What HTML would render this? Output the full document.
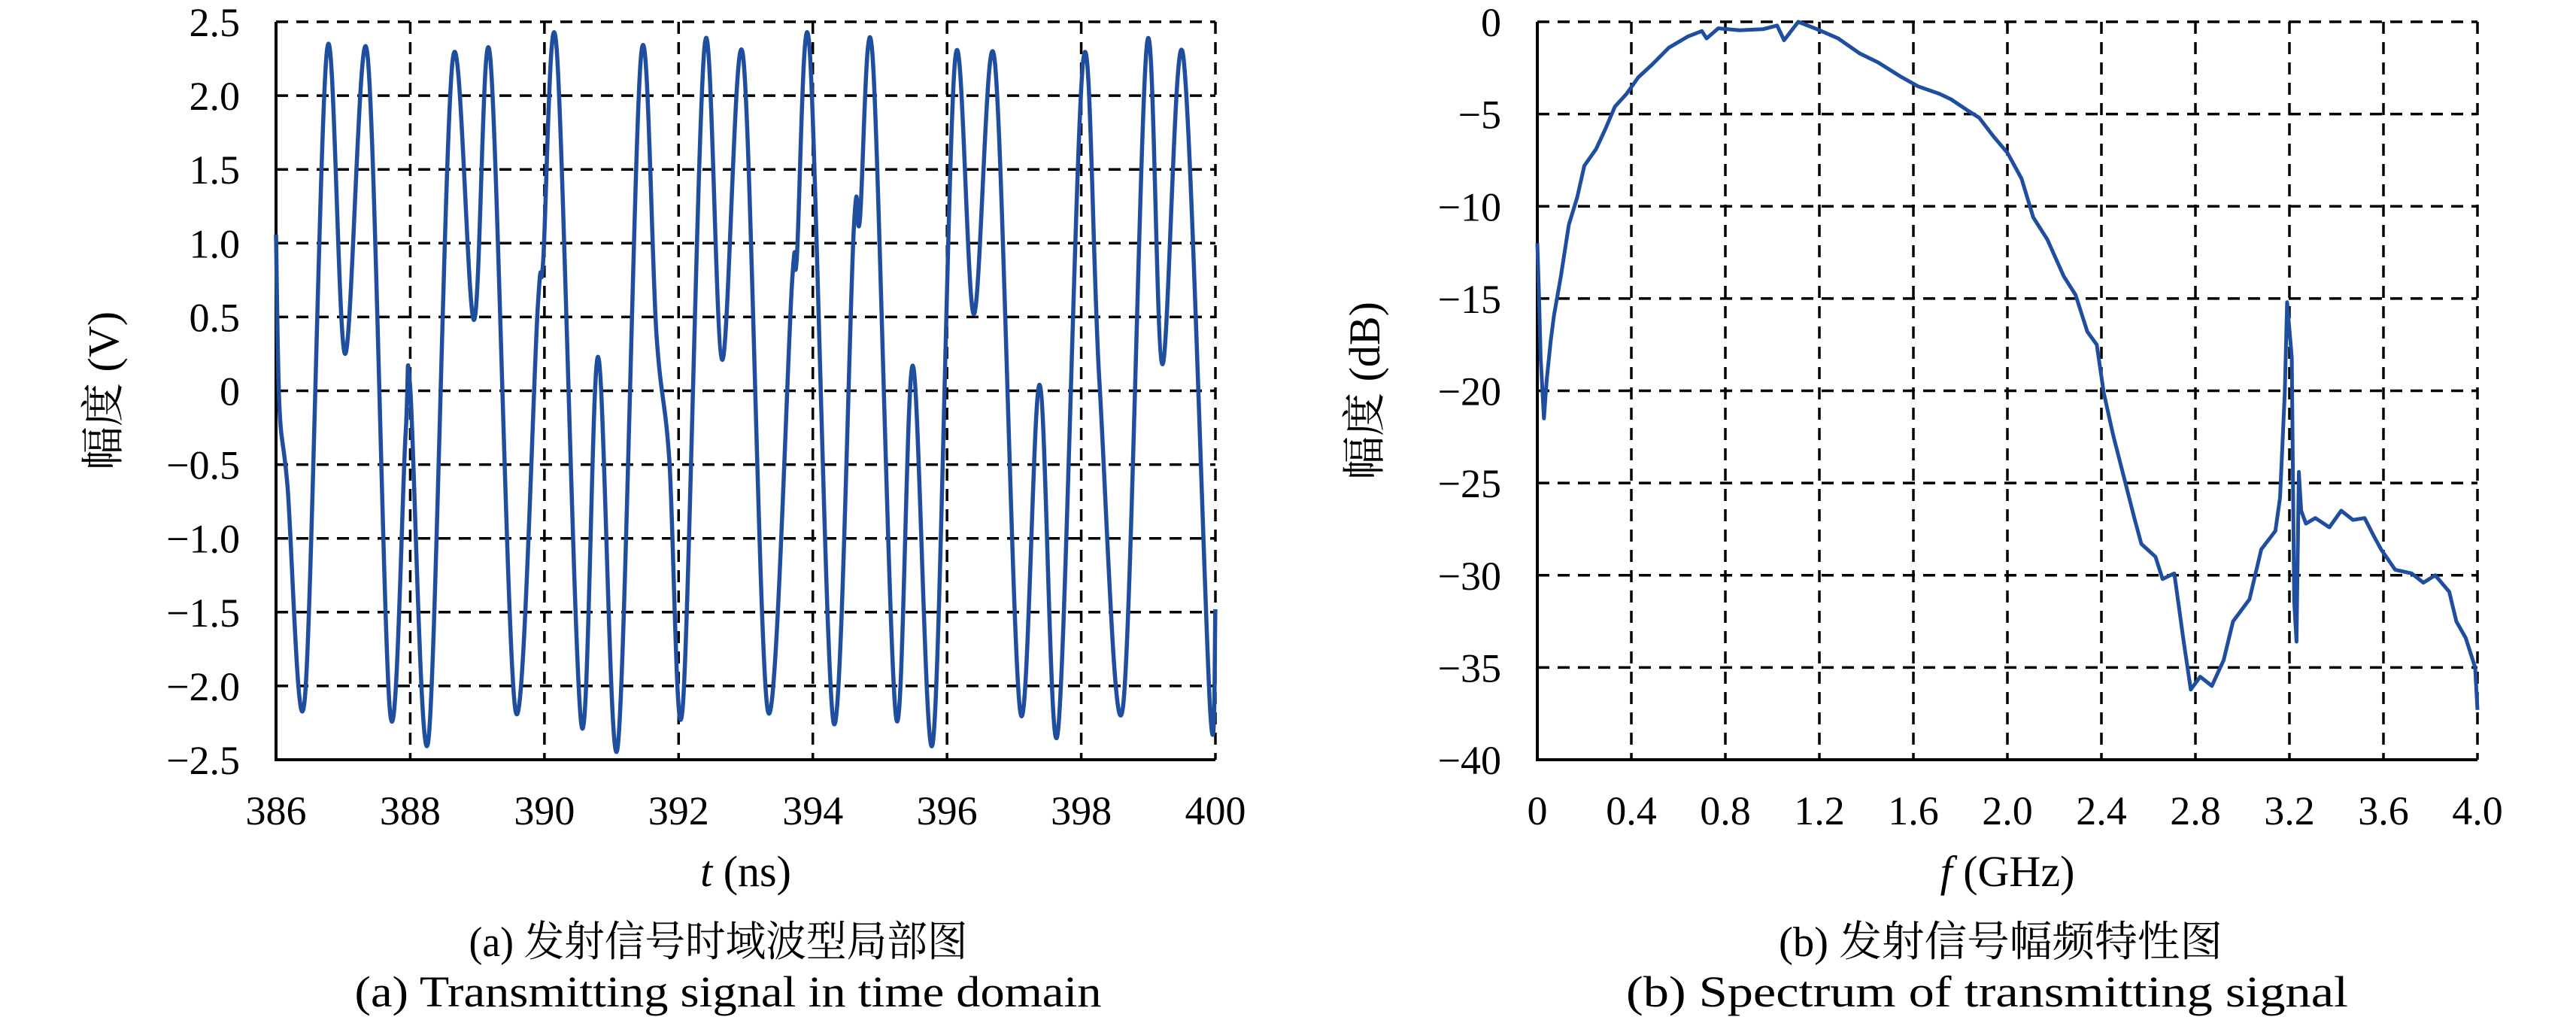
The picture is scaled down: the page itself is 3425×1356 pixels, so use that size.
<!DOCTYPE html>
<html><head><meta charset="utf-8"><style>
html,body{margin:0;padding:0;background:#fff;}
svg{display:block;font-family:"Liberation Serif","Noto Serif CJK SC","Noto Sans CJK SC",serif;}
</style></head><body>
<svg id="fig" width="3425" height="1356" viewBox="0 0 3425 1356" xmlns="http://www.w3.org/2000/svg">
<g id="left"></g>
<g id="right"></g>
<text x="955" y="1271" font-size="56" text-anchor="middle" textLength="663" lengthAdjust="spacingAndGlyphs">(a) 发射信号时域波型局部图</text>
<text x="968" y="1338" font-size="58" text-anchor="middle" textLength="993" lengthAdjust="spacingAndGlyphs">(a) Transmitting signal in time domain</text>
<text x="2660" y="1271" font-size="56" text-anchor="middle" textLength="590" lengthAdjust="spacingAndGlyphs">(b) 发射信号幅频特性图</text>
<text x="2642" y="1338" font-size="58" text-anchor="middle" textLength="960" lengthAdjust="spacingAndGlyphs">(b) Spectrum of transmitting signal</text>
</svg>
<script>
// ---- time-domain data ----
const tTimes=[386,386.05,386.17,386.43,386.76,387.03,387.36,387.70,387.93,388.0,388.27,388.63,388.95,389.19,389.57,389.90,389.98,390.18,390.55,390.80,391.09,391.44,391.67,391.86,392.06,392.39,392.65,392.96,393.33,393.69,393.76,393.95,394.31,394.61,394.70,394.89,395.24,395.49,395.79,396.12,396.40,396.71,397.09,397.38,397.65,398.03,398.27,398.62,398.98,399.21,399.52,399.92,400];
const tValues=[1.06,-0.1,-0.64,-2.08,2.31,0.25,2.29,-2.18,-0.3,0.02,-2.37,2.23,0.48,2.27,-2.17,0.56,0.87,2.33,-2.26,0.23,-2.42,2.27,0.38,-0.46,-2.15,2.35,0.21,2.27,-2.17,0.73,0.89,2.33,-2.25,1.09,1.15,2.27,-2.21,0.17,-2.38,2.24,0.52,2.24,-2.17,0.04,-2.32,2.24,0.07,-2.15,2.35,0.18,2.27,-2.15,-1.48];
const tXTicks=["386","388","390","392","394","396","398","400"];
const tYTicks=["2.5","2.0","1.5","1.0","0.5","0","-0.5","-1.0","-1.5","-2.0","-2.5"];
// ---- spectrum data ----
const fFreq=[0,0.007,0.014,0.028,0.04,0.057,0.071,0.1,0.134,0.17,0.2,0.25,0.29,0.33,0.38,0.43,0.49,0.56,0.64,0.70,0.72,0.77,0.86,0.96,1.02,1.05,1.11,1.19,1.28,1.37,1.45,1.55,1.62,1.71,1.76,1.83,1.88,1.94,2.0,2.06,2.11,2.17,2.24,2.29,2.34,2.38,2.41,2.45,2.50,2.54,2.57,2.63,2.66,2.71,2.75,2.78,2.82,2.87,2.92,2.96,3.03,3.08,3.14,3.16,3.18,3.19,3.21,3.22,3.23,3.24,3.25,3.27,3.31,3.37,3.42,3.47,3.52,3.56,3.59,3.65,3.72,3.77,3.82,3.88,3.91,3.95,3.99,4.0];
const fDb=[-12.0,-14.8,-18.2,-21.5,-19.4,-17.3,-15.9,-13.8,-11.0,-9.5,-7.8,-6.9,-5.8,-4.6,-3.9,-3.0,-2.3,-1.4,-0.8,-0.5,-0.9,-0.35,-0.46,-0.4,-0.2,-1.0,0,-0.4,-0.9,-1.7,-2.2,-3.0,-3.5,-3.9,-4.2,-4.8,-5.2,-6.2,-7.1,-8.5,-10.6,-11.8,-13.8,-14.8,-16.8,-17.5,-20.1,-22.4,-24.9,-26.9,-28.3,-29.0,-30.2,-29.9,-33.6,-36.2,-35.5,-36.0,-34.6,-32.5,-31.3,-28.6,-27.6,-25.8,-20.1,-15.2,-18.2,-31.4,-33.6,-24.4,-26.5,-27.2,-26.9,-27.4,-26.5,-27.0,-26.9,-27.9,-28.6,-29.7,-29.9,-30.4,-30.0,-30.9,-32.5,-33.4,-35.0,-37.3];
const fXTicks=["0","0.4","0.8","1.2","1.6","2.0","2.4","2.8","3.2","3.6","4.0"];
const fYTicks=["0","-5","-10","-15","-20","-25","-30","-35","-40"];

const NS="http://www.w3.org/2000/svg";
function mk(parent,tag,attrs){const e=document.createElementNS(NS,tag);for(const k in attrs)e.setAttribute(k,attrs[k]);parent.appendChild(e);return e;}

function drawAxes(g,L,R,T,B,xt,yt,xlab,ylab){
  const dash={stroke:"#000","stroke-width":3.5,"stroke-dasharray":"16,11",fill:"none"};
  xt.forEach((lab,i)=>{
    const x=L+(R-L)*i/(xt.length-1);
    if(i>0){const l=mk(g,"line",Object.assign({x1:x,y1:T,x2:x,y2:B},dash));
    
    }
    const t=mk(g,"text",{x:x,y:B+86,"font-size":54,"text-anchor":"middle"});t.textContent=lab.replace('-','\u2212');
    
    
  });
  yt.forEach((lab,i)=>{
    const y=T+(B-T)*i/(yt.length-1);
    if(i<yt.length-1){const l=mk(g,"line",Object.assign({x1:L,y1:y,x2:R,y2:y},dash));
    
    }
    const t=mk(g,"text",{x:L-48,y:y+19,"font-size":54,"text-anchor":"end"});t.textContent=lab.replace('-','\u2212');
    
    
  });
  const ax=mk(g,"path",{d:`M${L},${T} L${L},${B} L${R},${B}`,stroke:"#000","stroke-width":4,fill:"none"});
  
  
  const xl=mk(g,"text",{x:(L+R)/2,y:B+168,"font-size":58,"text-anchor":"middle"});xl.innerHTML=xlab;
  
  
  const yl=mk(g,"text",{x:0,y:0,"font-size":58,"text-anchor":"middle",transform:`translate(${L-210},${(T+B)/2}) rotate(-90)`});yl.textContent=ylab;
  
  
}

// left chart
(function(){
  const g=document.getElementById('left');
  const L=367,R=1616,T=29,B=1010;
  drawAxes(g,L,R,T,B,tXTicks,tYTicks,'<tspan font-style="italic">t</tspan> (ns)','幅度 (V)');
  const xs=t=>L+(t-386)/14*(R-L), ys=v=>T+(2.5-v)/5*(B-T);
  const P=tTimes.map((t,i)=>[xs(t),ys(tValues[i])]);
  let d=`M${P[0][0]},${P[0][1]}`;
  for(let i=0;i<P.length-1;i++){
    const p0=P[Math.max(0,i-1)],p1=P[i],p2=P[i+1],p3=P[Math.min(P.length-1,i+2)];
    const c1=[p1[0]+(p2[0]-p0[0])/6,p1[1]+(p2[1]-p0[1])/6],c2=[p2[0]-(p3[0]-p1[0])/6,p2[1]-(p3[1]-p1[1])/6];
    d+=` C${c1[0]},${c1[1]} ${c2[0]},${c2[1]} ${p2[0]},${p2[1]}`;
  }
  const s=mk(g,"path",{d:d,stroke:"#1f4e9e","stroke-width":5.5,fill:"none","stroke-linejoin":"round"});
  
  
})();

// right chart
(function(){
  const g=document.getElementById('right');
  const L=2044,R=3294,T=29,B=1010;
  drawAxes(g,L,R,T,B,fXTicks,fYTicks,'<tspan font-style="italic">f</tspan> (GHz)','幅度 (dB)');
  const xs=f=>L+f/4*(R-L), ys=v=>T+(-v)/40*(B-T);
  const pts=fFreq.map((f,i)=>xs(f).toFixed(1)+","+ys(fDb[i]).toFixed(1)).join(" ");
  const s=mk(g,"polyline",{points:pts,stroke:"#1f4e9e","stroke-width":5,fill:"none","stroke-linejoin":"round"});
  
  
})();
</script>
</body></html>
